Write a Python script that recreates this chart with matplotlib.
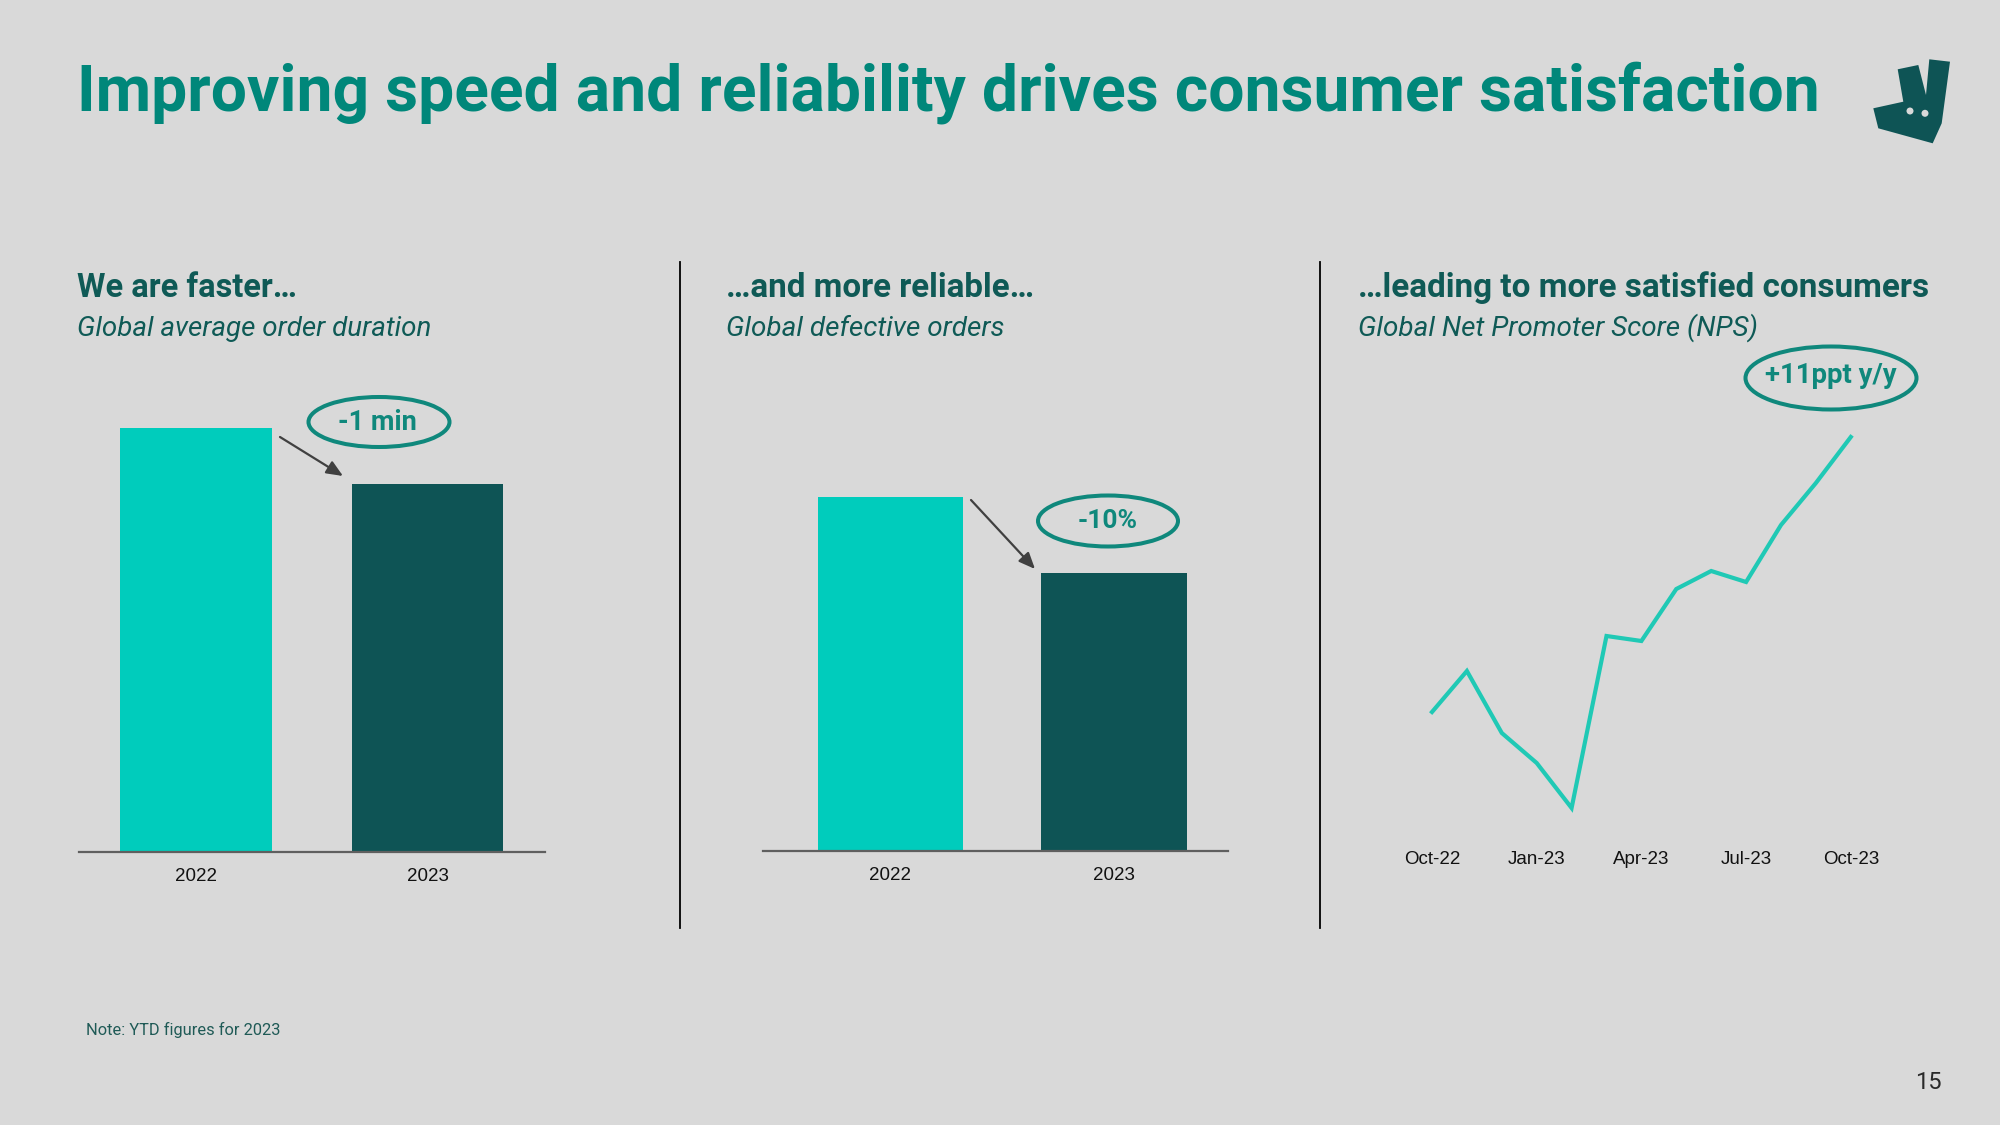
import matplotlib
matplotlib.use("Agg")
import matplotlib.pyplot as plt
from matplotlib.patches import Ellipse, Polygon
from matplotlib.lines import Line2D

W, H, DPI = 2000, 1125, 100

# ---------------- data ----------------
duration_years = ["2022", "2023"]
duration_index = [100.0, 86.8]          # relative bar heights (2022 = 100)
defect_years = ["2022", "2023"]
defect_index = [100.0, 78.5]            # relative bar heights (2022 = 100)
nps_months = ["Oct-22", "Nov-22", "Dec-22", "Jan-23", "Feb-23", "Mar-23", "Apr-23",
              "May-23", "Jun-23", "Jul-23", "Aug-23", "Sep-23", "Oct-23"]
nps_change = [0.0, 1.64, -0.84, -2.04, -3.84, 3.04, 2.84, 4.92, 5.64, 5.2, 7.48, 9.16, 11.0]
nps_tick_labels = ["Oct-22", "Jan-23", "Apr-23", "Jul-23", "Oct-23"]

title = "Improving speed and reliability drives consumer satisfaction"
headers = ["We are faster…", "…and more reliable…", "…leading to more satisfied consumers"]
subtitles = ["Global average order duration", "Global defective orders",
             "Global Net Promoter Score (NPS)"]
callouts = ["-1 min", "-10%", "+11ppt y/y"]

# ---------------- style ----------------
BG = "#d9d9d9"
TEAL_TITLE = "#00877a"
DARK_TEAL = "#0f5a56"
BRIGHT = "#00ccbc"
DARK_BAR = "#0e5455"
LINE_C = "#20c9b5"
OVAL = "#0f887c"
ARROW_C = "#404040"

fig = plt.figure(figsize=(W / DPI, H / DPI), dpi=DPI, facecolor=BG)
renderer = fig.canvas.get_renderer()


def fx(x):
    return x / W


def fy(y):
    return 1 - y / H


def px_axes(left, top, right, bottom):
    ax = fig.add_axes([left / W, 1 - bottom / H, (right - left) / W, (bottom - top) / H])
    ax.set_facecolor("none")
    return ax


def ftext(x, y, s, target_w=None, **kw):
    t = fig.text(fx(x), fy(y), s, **kw)
    if target_w is not None:
        bb = t.get_window_extent(renderer)
        t.set_fontsize(t.get_fontsize() * target_w / bb.width)
    return t


# ---------------- titles ----------------
ftext(77, 110, title, target_w=1741, family="Roboto", weight="bold", color=TEAL_TITLE,
      fontsize=48, va="baseline", ha="left")

head_x = [77, 726, 1358]
head_w = [220, 309, 571]
sub_w = [354, 278, 400]
for i in range(3):
    ftext(head_x[i], 297, headers[i], target_w=head_w[i], family="Roboto", weight="bold",
          color=DARK_TEAL, fontsize=24, va="baseline", ha="left")
    ftext(head_x[i], 336, subtitles[i], target_w=sub_w[i], family="Roboto", style="italic",
          color=DARK_TEAL, fontsize=20, va="baseline", ha="left")


# ---------------- bar charts ----------------
def bar_panel(left, right, top, base, c0, c1, width, topval, cats, vals):
    ax = px_axes(left, top, right, base)
    sp = c1 - c0
    ax.set_xlim(-(c0 - left) / sp, 1 + (right - c1) / sp)
    ax.set_ylim(0, topval)
    ax.bar(range(len(vals)), vals, width=width, color=[BRIGHT, DARK_BAR], zorder=2)
    for s in ["top", "left", "right"]:
        ax.spines[s].set_visible(False)
    ax.spines["bottom"].set_color("#5f5f5f")
    ax.spines["bottom"].set_linewidth(1.6)
    ax.spines["bottom"].set_zorder(3)
    ax.set_yticks([])
    ax.set_xticks(range(len(cats)))
    ax.set_xticklabels(cats, family="Liberation Sans", fontsize=13.5, color="#111111")
    ax.tick_params(axis="x", length=0, pad=11.5)
    return ax


bar_panel(79, 545, 400, 852, 196, 427.5, 0.656, 100 * 452 / 424, duration_years, duration_index)
bar_panel(763, 1228, 470, 851, 890.5, 1114, 0.651, 100 * 381 / 354, defect_years, defect_index)

# ---------------- line chart ----------------
axl = px_axes(1400, 420, 1900, 830)
step = 34.9
axl.set_xlim(-(1432 - 1400) / step, (1900 - 1432) / step)
axl.set_ylim(-(830 - 712) / 25, (712 - 420) / 25)
axl.plot(range(len(nps_change)), nps_change, color=LINE_C, lw=3.0, solid_joinstyle="miter")
for s in axl.spines.values():
    s.set_visible(False)
axl.set_yticks([])
axl.set_xticks([nps_months.index(m) for m in nps_tick_labels])
axl.set_xticklabels(nps_tick_labels, family="Liberation Sans", fontsize=13.5, color="#111111")
axl.tick_params(axis="x", length=0, pad=15)

# ---------------- callouts ----------------
ovals = [(379, 422, 141, 50), (1108, 521, 140, 51), (1831, 378, 171, 63)]
texts_pos = [(377, 430, 79), (1108, 528, 60), (1831, 383, 132)]
for (cx, cy, w, h), (tx, ty, tw), s in zip(ovals, texts_pos, callouts):
    fig.add_artist(Ellipse((fx(cx), fy(cy)), w / W, h / H, transform=fig.transFigure,
                           fill=False, edgecolor=OVAL, lw=2.9))
    ftext(tx, ty, s, target_w=tw, family="Roboto", weight="bold", color=OVAL,
          fontsize=18, ha="center", va="baseline")

arrows = [((280, 437), (343, 476)), ((971, 500), (1035, 569))]
for (x0, y0), (x1, y1) in arrows:
    fig.add_artist(matplotlib.patches.FancyArrowPatch(
        (fx(x0), fy(y0)), (fx(x1), fy(y1)), transform=fig.transFigure,
        arrowstyle="-|>,head_length=0.7,head_width=0.3", mutation_scale=14,
        color=ARROW_C, lw=1.6, shrinkA=0, shrinkB=0))

# ---------------- dividers ----------------
for xd in [680, 1320]:
    fig.add_artist(Line2D([fx(xd), fx(xd)], [fy(262), fy(928)], transform=fig.transFigure,
                          color="black", lw=1.3))

# ---------------- footer ----------------
ftext(86, 1035, "Note: YTD figures for 2023", target_w=194, family="Roboto",
      color="#1f5a56", fontsize=12, va="baseline", ha="left")
ftext(1942, 1089, "15", family="Roboto", color="#2a2a2a",
      fontsize=17, va="baseline", ha="right")

# ---------------- logo ----------------
logo_pts = [(1897.7, 69.3), (1918.3, 65.0), (1926.0, 95.0), (1929.3, 59.3), (1950.0, 61.7),
            (1941.7, 123.3), (1932.7, 143.3), (1878.3, 128.3), (1873.3, 108.3), (1903.3, 101.7)]
fig.add_artist(Polygon([(fx(x), fy(y)) for x, y in logo_pts], closed=True,
                       transform=fig.transFigure, facecolor="#0e5455", edgecolor="none"))
for ex, ey in [(1910, 111), (1925, 113.3)]:
    fig.add_artist(Ellipse((fx(ex), fy(ey)), 7 / W, 7 / H, transform=fig.transFigure,
                           facecolor=BG, edgecolor="none"))

fig.savefig("out.png", dpi=DPI, facecolor=BG)
